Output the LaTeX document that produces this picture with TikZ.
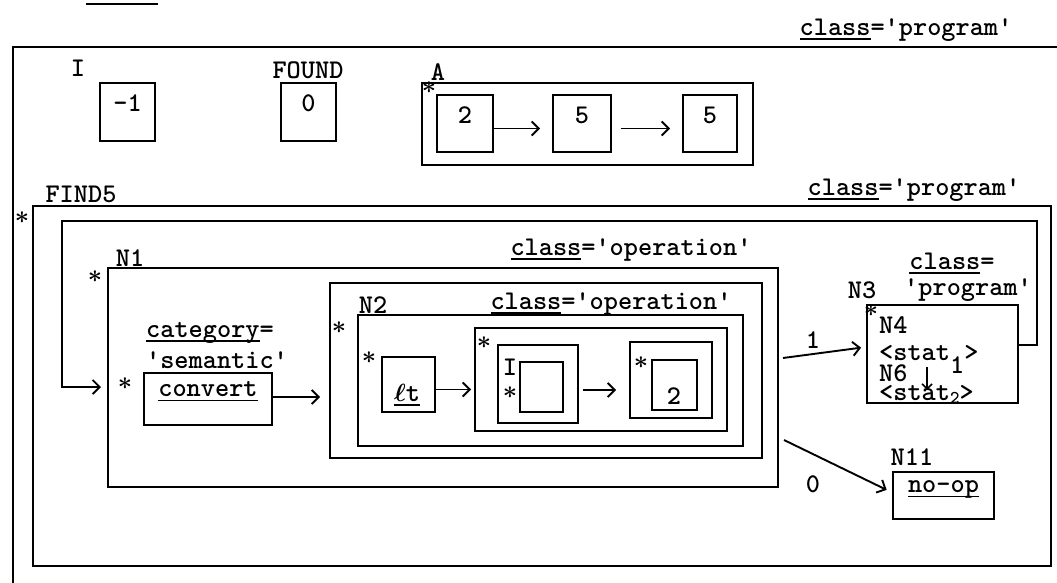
\documentclass[tikz,border=0pt]{standalone}
\usepackage{fontspec}
\usetikzlibrary{arrows.meta,fit}
\newcommand\tw{\ttfamily\bfseries\fontsize{27}{29}\selectfont}
\newcommand\myul[1]{\mbox{\setbox0\hbox{#1}\rlap{\rule[-4.5pt]{\wd0}{1.5pt}}\box0}}
\begin{document}
\begin{tikzpicture}[x=1pt,y=-1pt, font=\tw,
  bx/.style={draw, line width=1.9pt, inner sep=0pt, rectangle},
  lb/.style={inner sep=0pt},
  st/.style={inner sep=0pt, font=\fontsize{26}{26}\selectfont\boldmath},
  ln/.style={line width=1.9pt},
  arr/.style={line width=1.9pt, -{Straight Barb[length=7pt,width=14pt,line width=1.9pt]}},
  arrs/.style={line width=1.6pt, -{Straight Barb[length=5pt,width=10pt,line width=1.6pt]}},
]
\fill[white] (0,0) rectangle (1057,583);
\useasboundingbox (0,0) rectangle (1057,583);

% top
\coordinate (u1) at (86,4); \coordinate (u2) at (158,4);
\draw[ln] (u1) -- (u2);
\node[lb] (tcls) at (906,30) {\myul{class}='program'};
\coordinate (oTR) at (1057,47); \coordinate (oTL) at (13,47); \coordinate (oBL) at (13,583);
\draw[ln] (oTR) -- (oTL) -- (oBL);

\node[lb] (lI) at (78,68) {I};
\node[bx, fit={(100,83) (155,141)}] (vI) {-1};
\node[lb] (lF) at (308,70) {FOUND};
\node[bx, fit={(281,83) (336,141)}] (vF) {0};
\node[lb] (lA) at (438,72) {A};
\node[bx, fit={(422,83) (753,165)}] (vA) {};
\node[st] (sA) at (429,88) {$\ast$};
\node[bx, fit={(437,95) (493,152)}] (a1) {2};
\node[bx, fit={(553,95) (611,152)}] (a2) {5};
\node[bx, fit={(683,95) (737,152)}] (a3) {5};
\draw[arr, shorten >=12pt] ([yshift=-5pt]a1.east) -- ([yshift=-5pt]a2.west);
\draw[arr, shorten <=9pt, shorten >=12pt] ([yshift=-5pt]a2.east) -- ([yshift=-5pt]a3.west);

% FIND5
\node[lb] (lF5) at (81,194) {FIND5};
\node[st] (sF5) at (22,218) {$\ast$};
\node[bx, fit={(33,206) (1051,566)}] (f5) {};
\node[lb] (cF5) at (914,190) {\myul{class}='program'};

% N1
\node[lb] (lN1) at (130,258) {N1};
\node[st] (sN1) at (95,277) {$\ast$};
\node[bx, fit={(108,268) (778,487)}] (n1) {};
\node[lb] (cN1) at (631,250) {\myul{class}='operation'};
\node[lb] (cat) at (210,333) {\myul{category}=};
\node[lb] (sem) at (217,360) {'semantic'};
\node[st] (scv) at (125,384) {$\ast$};
\node[bx, fit={(144,373) (272,425)}] (cv) {\myul{convert}};

% N2
\node[bx, fit={(330,283) (762,458)}] (n2) {};
\node[st] (sN2) at (339,328) {$\ast$};
\node[lb] (lN2) at (373,305) {N2};
\node[lb] (cN2) at (611,304) {\myul{class}='operation'};
\node[bx, fit={(358,315) (743,446)}] (n2i) {};
\draw[arr, shorten >=9pt] ([yshift=2pt]cv.east) -- ([yshift=-26.5pt]n2.west);

\node[st] (slt) at (369,358) {$\ast$};
\node[bx, fit={(382,357) (435,412)}] (lt) {};
\node[lb] (ltt) at (407,395) {\myul{{\boldmath$\ell$}t}};

\node[bx, fit={(475,328) (727,431)}] (grp) {};
\node[st] (sgrp) at (484,343) {$\ast$};
\draw[arr, shorten >=3pt] ([yshift=-5pt]lt.east) -- ([yshift=-10pt]grp.west);

\node[bx, fit={(498,345) (578,423)}] (ib) {};
\node[bx, fit={(520,362) (563,412)}] (ibi) {};
\node[lb] (lIi) at (510,367) {I};
\node[st] (sIi) at (510,393) {$\ast$};

\node[bx, fit={(630,342) (712,418)}] (tg) {};
\node[st] (stg) at (641,363) {$\ast$};
\node[bx, fit={(652,360) (697,410)}] (tgi) {};
\node[lb] (tgt) at (674,396) {2};
\draw[arr, shorten <=4pt, shorten >=13pt] ([yshift=-6pt]ib.east) -- ([yshift=-10pt]tg.west);

% N3
\node[lb] (cN3a) at (952,263) {\myul{class}=};
\node[lb] (cN3b) at (968,290) {'program'};
\node[lb] (lN3) at (862,290) {N3};
\node[bx, fit={(867,305) (1018,403)}] (n3) {};
\node[st] (sN3) at (871,311) {$\ast$};
\node[lb, anchor=base west] (lN4) at (879,333) {N4};
\node[lb, anchor=base west] (st1) at (879,360) {<stat\raisebox{-13pt}{1}>};
\node[lb, anchor=base west] (lN6) at (879,381) {N6};
\node[lb, anchor=base west] (st2) at (879,400) {<stat{\fontsize{18}{18}\selectfont\raisebox{-3pt}{2}}>};
\coordinate (dA) at (927,367); \coordinate (dB) at (927,390);
\draw[arrs] (dA) -- (dB);

% loop
\coordinate (lpR) at (1037,221); \coordinate (lpL) at (62,221); \coordinate (lpE) at (101,387);
\draw[arr] ([yshift=9pt]n3.east) -| (lpR) -- (lpL) |- (lpE);

% branch 1
\coordinate (o1) at (783,358);
\draw[arr, shorten >=5pt] (o1) -- ([yshift=7pt]n3.west);
\node[lb] (l1) at (813,340) {1};

% N11
\node[lb] (lN11) at (912,457) {N11};
\node[bx, fit={(893,472) (994,519)}] (nop) {\myul{no-op}};
\coordinate (o0) at (784,440);
\draw[arr, shorten >=6pt] (o0) -- ([yshift=3pt]nop.west);
\node[lb] (l0) at (813,484) {0};
\end{tikzpicture}
\end{document}
